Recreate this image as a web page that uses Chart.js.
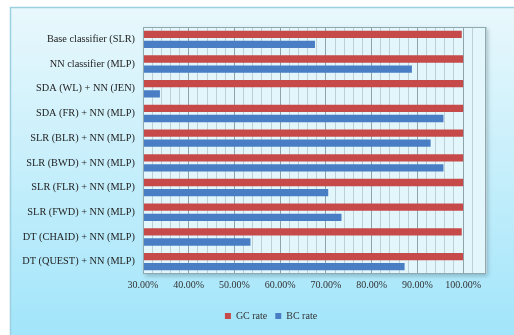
<!DOCTYPE html>
<html>
<head>
<meta charset="utf-8">
<script src="https://cdn.jsdelivr.net/npm/chart.js@4"></script>
<style>
    html, body { margin: 0; padding: 0; background: #ffffff; }
    #wrap { width: 514px; height: 335px; position: relative; }
</style>
</head>
<body>
<div id="wrap"><canvas id="rates" width="514" height="335"></canvas></div>
<script>
const classifiers = [
    'Base classifier (SLR)',
    'NN classifier (MLP)',
    'SDA (WL) + NN (JEN)',
    'SDA (FR) + NN (MLP)',
    'SLR (BLR) + NN (MLP)',
    'SLR (BWD) + NN (MLP)',
    'SLR (FLR) + NN (MLP)',
    'SLR (FWD) + NN (MLP)',
    'DT (CHAID) + NN (MLP)',
    'DT (QUEST) + NN (MLP)'
];
const gcRate = [99.7, 100, 100, 100, 100, 100, 100, 100, 99.7, 100];
const bcRate = [67.6, 88.8, 33.7, 95.7, 92.9, 95.7, 70.5, 73.4, 53.5, 87.2];

const serif = '"Liberation Serif", "Times New Roman", serif';
const red = '#c74a4b';
const blue = '#4a7ec4';

// light cyan frame behind everything, plus the pale plot panel with a soft shadow
const frame = {
    id: 'frame',
    afterLayout(chart) {
        // legend sits centred under the plot panel rather than the whole canvas
        chart.legend.left += 23;
        chart.legend.right += 23;
    },
    beforeDraw(chart) {
        const ctx = chart.ctx;
        const a = chart.chartArea;
        ctx.save();
        const g = ctx.createLinearGradient(0, 7, 0, 335);
        g.addColorStop(0, '#e9f8fc');
        g.addColorStop(1, '#a2e5fa');
        ctx.fillStyle = g;
        ctx.fillRect(10, 7, 514, 335);
        ctx.strokeStyle = '#9ccfe0';
        ctx.lineWidth = 1.5;
        ctx.beginPath();
        ctx.moveTo(10.5, 335);
        ctx.lineTo(10.5, 7.5);
        ctx.lineTo(514, 7.5);
        ctx.stroke();

        ctx.shadowColor = 'rgba(60, 90, 100, 0.35)';
        ctx.shadowBlur = 4;
        ctx.shadowOffsetX = 2;
        ctx.shadowOffsetY = 2;
        ctx.fillStyle = '#e3f6fb';
        ctx.fillRect(a.left, a.top, a.right - a.left, a.bottom - a.top);
        ctx.restore();
    },
    afterDatasetsDraw(chart) {
        const ctx = chart.ctx;
        const a = chart.chartArea;
        ctx.save();
        ctx.strokeStyle = '#8fa9b0';
        ctx.lineWidth = 1;
        ctx.strokeRect(a.left + 0.5, a.top + 0.5, a.right - a.left - 1, a.bottom - a.top - 1);
        ctx.restore();
    }
};

new Chart(document.getElementById('rates'), {
    type: 'bar',
    data: {
        labels: classifiers,
        datasets: [
            { label: 'GC rate', data: gcRate, backgroundColor: red },
            { label: 'BC rate', data: bcRate, backgroundColor: blue }
        ]
    },
    options: {
        indexAxis: 'y',
        responsive: false,
        animation: false,
        categoryPercentage: 0.82,
        barPercentage: 0.72,
        layout: { padding: { top: 27, right: 28, bottom: 4, left: 10 } },
        scales: {
            x: {
                min: 30,
                max: 105,
                border: { display: false },
                grid: {
                    drawTicks: false,
                    color: (c) => (c.tick && c.tick.value % 10 === 0) ? '#8ea4aa' : '#bcd0d6',
                    lineWidth: 1
                },
                ticks: {
                    stepSize: 2,
                    autoSkip: false,
                    maxRotation: 0,
                    padding: 5,
                    color: '#333333',
                    font: { family: serif, size: 10 },
                    callback: (v) => (v % 10 === 0 && v <= 100) ? v.toFixed(2) + '%' : ''
                },
                afterFit: (s) => { s.height = 29; }
            },
            y: {
                border: { display: false },
                grid: { display: false, drawTicks: false },
                ticks: {
                    padding: 8,
                    color: '#222222',
                    font: { family: serif, size: 10.3 }
                },
                afterFit: (s) => { s.width = 133; }
            }
        },
        plugins: {
            tooltip: { enabled: false },
            legend: {
                position: 'bottom',
                labels: {
                    boxWidth: 6,
                    boxHeight: 6,
                    padding: 8,
                    color: '#333333',
                    font: { family: serif, size: 10 }
                }
            }
        }
    },
    plugins: [frame]
});
</script>
</body>
</html>
